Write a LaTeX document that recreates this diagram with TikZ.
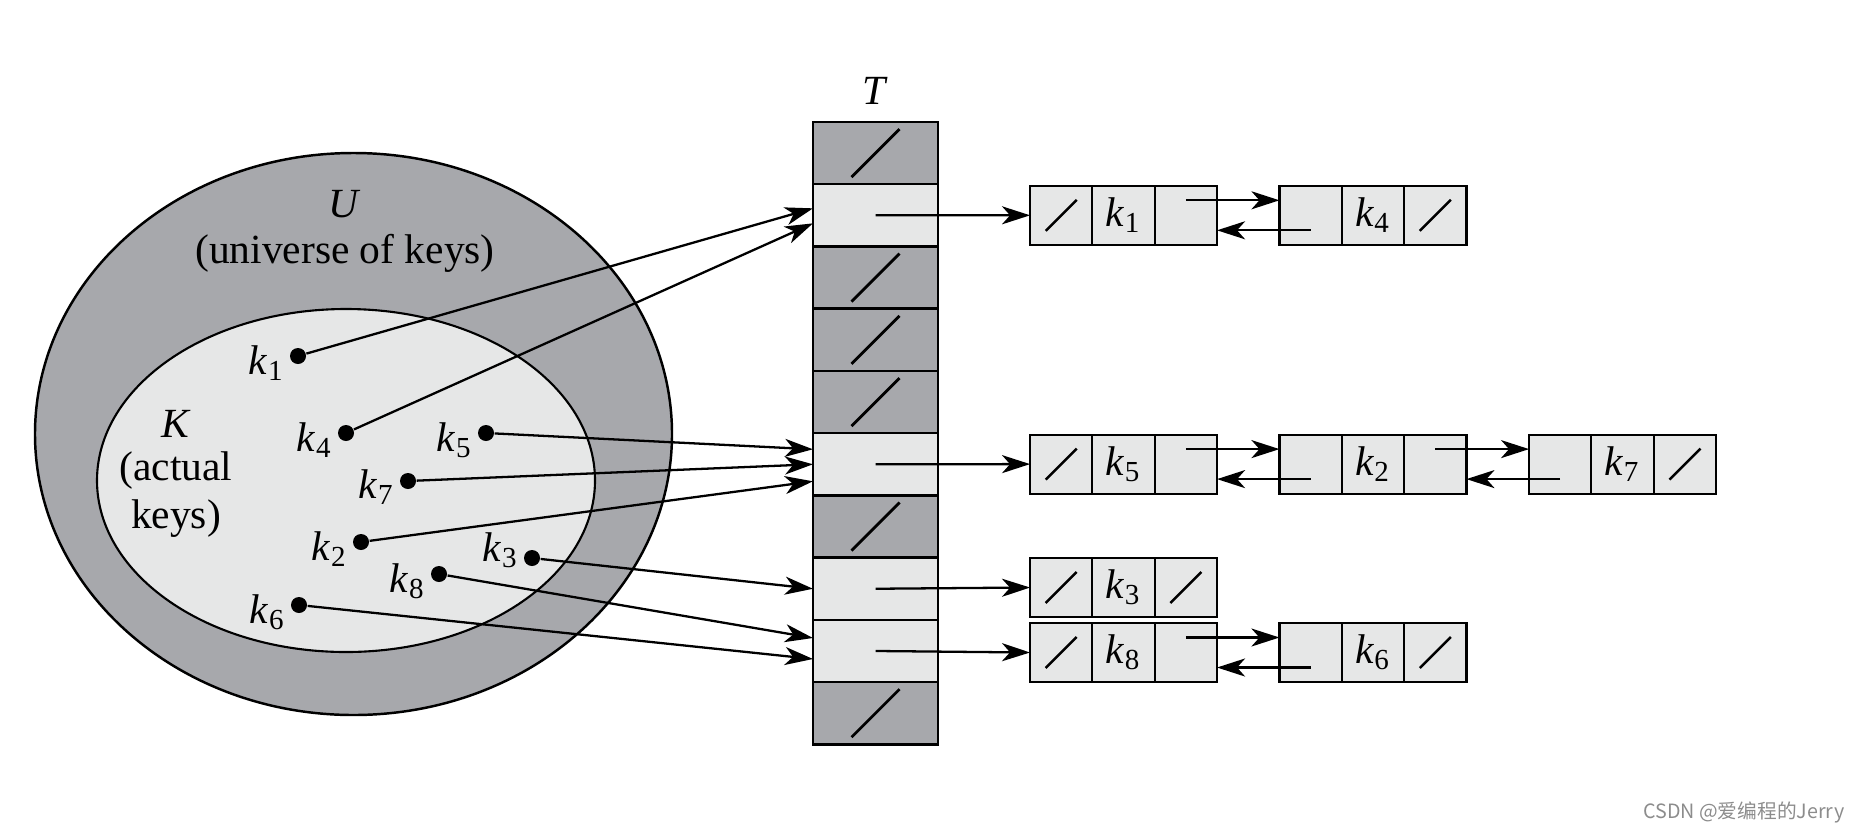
\documentclass[tikz,border=0pt]{standalone}
\usepackage{fontspec}
\setmainfont{Liberation Serif}
\newfontfamily\cjk{Noto Sans CJK SC}
\usepackage{tikz}
\usetikzlibrary{arrows.meta,positioning,calc}
\definecolor{ugray}{RGB}{167,168,172}
\definecolor{lgray}{RGB}{230,231,231}
\newcommand{\kk}[1]{\textit{k}\textsubscript{#1}}

\begin{document}
\begin{tikzpicture}[x=0.01cm,y=-0.01cm,
  every node/.style={font=\fontsize{11.8}{14}\selectfont},
  tcell/.style={draw, line width=0.7pt, minimum width=1.25cm, minimum height=0.622cm, inner sep=0, outer sep=0},
  tfull/.style={tcell, fill=lgray},
  tnil/.style={tcell, fill=ugray, path picture={\draw[line width=0.8pt] (path picture bounding box.center) ++(-0.24cm,-0.24cm) -- ++(0.48cm,0.48cm);}},
  lcell/.style={draw, line width=0.6pt, fill=lgray, minimum width=0.623cm, minimum height=0.59cm, inner sep=0, outer sep=0},
  lnil/.style={lcell, path picture={\draw[line width=0.7pt] (path picture bounding box.center) ++(-0.155cm,-0.155cm) -- ++(0.31cm,0.31cm);}},
  dot/.style={circle, fill=black, inner sep=0, minimum size=0.16cm},
  klab/.style={anchor=base east, inner sep=0},
  arr/.style={-{Stealth[length=0.28cm,width=0.18cm,inset=0.08cm]}, line width=0.65pt}]
\useasboundingbox (0,0) rectangle (1861,830);

\draw[line width=0.7pt, fill=ugray] (353.5,434) ellipse [x radius=318.5, y radius=281];
\draw[line width=0.6pt, fill=lgray] (346,480.5) ellipse [x radius=249, y radius=171.5];
\node (U) at (345,204) {\textit{U}};
\node (Utxt) at (345,253) {(universe of keys)};
\node (K) at (176,424) {\textit{K}};
\node (Ktxt1) at (176,471) {(actual};
\node (Ktxt2) at (176,519) {keys)};

\node[dot] (k1) at (298,356) {};
\node[dot] (k4) at (346,433) {};
\node[dot] (k5) at (486,433) {};
\node[dot] (k7) at (408,481) {};
\node[dot] (k2) at (361,542) {};
\node[dot] (k3) at (532,558) {};
\node[dot] (k8) at (439,574) {};
\node[dot] (k6) at (299,605) {};
\node[klab] (l1) at ($(k1)+(-13,18)$) {\kk1};
\node[klab] (l4) at ($(k4)+(-13,18)$) {\kk4};
\node[klab] (l5) at ($(k5)+(-13,18)$) {\kk5};
\node[klab] (l7) at ($(k7)+(-13,17)$) {\kk7};
\node[klab] (l2) at ($(k2)+(-13,18)$) {\kk2};
\node[klab] (l3) at ($(k3)+(-13,3)$) {\kk3};
\node[klab] (l8) at ($(k8)+(-13,18)$) {\kk8};
\node[klab] (l6) at ($(k6)+(-13,18)$) {\kk6};

\node[tnil] (t0) at (875.5,153.1) {};
\node[tfull, below=0pt of t0] (t1) {};
\node[tnil, below=0pt of t1] (t2) {};
\node[tnil, below=0pt of t2] (t3) {};
\node[tnil, below=0pt of t3] (t4) {};
\node[tfull, below=0pt of t4] (t5) {};
\node[tnil, below=0pt of t5] (t6) {};
\node[tfull, below=0pt of t6] (t7) {};
\node[tfull, below=0pt of t7] (t8) {};
\node[tnil, below=0pt of t8] (t9) {};
\node (T) at (875,91) {\textit{T}};

\node[lnil] (a1p) at (1061.2,215.3) {};
\node[lcell, right=0pt of a1p] (a1k) {\kk1};
\node[lcell, right=0pt of a1k] (a1n) {};
\node[lcell] (a2p) at (1310.6,215.3) {};
\node[lcell, right=0pt of a2p] (a2k) {\kk4};
\node[lnil, right=0pt of a2k] (a2n) {};

\node[lnil] (b1p) at (1061.2,464.1) {};
\node[lcell, right=0pt of b1p] (b1k) {\kk5};
\node[lcell, right=0pt of b1k] (b1n) {};
\node[lcell] (b2p) at (1310.6,464.1) {};
\node[lcell, right=0pt of b2p] (b2k) {\kk2};
\node[lcell, right=0pt of b2k] (b2n) {};
\node[lcell] (b3p) at (1560.2,464.1) {};
\node[lcell, right=0pt of b3p] (b3k) {\kk7};
\node[lnil, right=0pt of b3k] (b3n) {};

\node[lnil] (c1p) at (1061.2,587.5) {};
\node[lcell, right=0pt of c1p] (c1k) {\kk3};
\node[lnil, right=0pt of c1k] (c1n) {};

\node[lnil] (d1p) at (1061.2,652.5) {};
\node[lcell, right=0pt of d1p] (d1k) {\kk8};
\node[lcell, right=0pt of d1k] (d1n) {};
\node[lcell] (d2p) at (1310.6,652.5) {};
\node[lcell, right=0pt of d2p] (d2k) {\kk6};
\node[lnil, right=0pt of d2k] (d2n) {};

\draw[arr] (k1) -- ($(t1.west)+(0,-7)$);
\draw[arr] (k4) -- ($(t1.west)+(0,8)$);
\draw[arr] (k5) -- ($(t5.west)+(0,-15)$);
\draw[arr] (k7) -- ($(t5.west)+(0,0)$);
\draw[arr] (k2) -- ($(t5.west)+(0,17)$);
\draw[arr] (k3) -- ($(t7.west)+(0,0)$);
\draw[arr] (k8) -- ($(t8.west)+(0,-13)$);
\draw[arr] (k6) -- ($(t8.west)+(0,8)$);

\draw[arr] (t1.center) -- (a1p.west);
\draw[arr] (t5.center) -- (b1p.west);
\draw[arr] (t7.center) -- (c1p.west);
\draw[arr] (t8.center) -- (d1p.west);

\draw[arr] ($(a1n.center)+(0,-15)$) -- ($(a2p.west)+(0,-15)$);
\draw[arr] ($(a2p.center)+(0,15)$) -- ($(a1n.east)+(0,15)$);
\draw[arr] ($(b1n.center)+(0,-15)$) -- ($(b2p.west)+(0,-15)$);
\draw[arr] ($(b2p.center)+(0,15)$) -- ($(b1n.east)+(0,15)$);
\draw[arr] ($(b2n.center)+(0,-15)$) -- ($(b3p.west)+(0,-15)$);
\draw[arr] ($(b3p.center)+(0,15)$) -- ($(b2n.east)+(0,15)$);
\draw[arr] ($(d1n.center)+(0,-15)$) -- ($(d2p.west)+(0,-15)$);
\draw[arr] ($(d2p.center)+(0,15)$) -- ($(d1n.east)+(0,15)$);

\node[font=\cjk\fontsize{5.6}{7}\selectfont, text=black!45, anchor=east, inner sep=0] (wm) at (1845,812) {CSDN @爱编程的Jerry};
\end{tikzpicture}
\end{document}
